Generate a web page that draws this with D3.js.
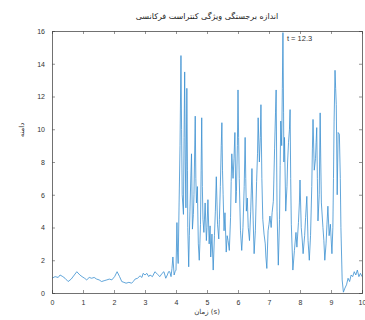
<!DOCTYPE html>
<html><head><meta charset="utf-8">
<script src="https://cdn.jsdelivr.net/npm/d3@7"></script>
<style>body{margin:0;background:#fff}svg{display:block}</style>
</head><body>
<script>
const titleText = "اندازه برجستگی ویژگی کنتراست فرکانسی";
const xLabel = "زمان (s)";
const yLabel = "دامنه";
const annotation = "t = 12.3";
const xTicks = [0,1,2,3,4,5,6,7,8,9,10];
const yTicks = [0,2,4,6,8,10,12,14,16];
const baseline = [[0,0.9],[0.1,1.0],[0.2,0.95],[0.26,1.1],[0.35,1.0],[0.42,0.9],[0.52,0.7],[0.62,0.85],[0.72,1.1],[0.8,1.3],[0.9,1.1],[0.97,1.0],[1.05,0.9],[1.12,0.8],[1.2,0.95],[1.28,0.9],[1.36,0.95],[1.44,0.85],[1.52,0.8],[1.6,0.7],[1.68,0.75],[1.77,0.8],[1.85,0.85],[1.93,0.8],[2.02,1.0],[2.1,1.3],[2.18,1.0],[2.25,0.7],[2.32,0.65],[2.39,0.6],[2.48,0.65],[2.57,0.6],[2.62,0.7],[2.68,0.85],[2.76,0.9],[2.84,1.05],[2.9,0.95],[2.94,1.2],[3.0,1.1],[3.06,1.2],[3.12,1.0],[3.16,1.1],[3.24,1.0],[3.32,1.3],[3.4,1.15],[3.48,1.0],[3.55,1.2],[3.61,1.3],[3.67,0.9],[3.72,1.1],[3.76,1.3],[3.8,1.3],[3.84,1.0],[3.87,1.5],[3.9,2.2],[3.94,1.1],[3.97,1.3],[4.0,1.4]];
const burst = [[4.03,4.3],[4.05,2.5],[4.07,1.8],[4.1,5.5],[4.13,9.0],[4.16,14.5],[4.18,10.0],[4.2,6.0],[4.24,4.8],[4.26,9.5],[4.28,13.5],[4.3,8.0],[4.32,5.2],[4.35,12.5],[4.37,7.5],[4.38,4.0],[4.41,1.6],[4.43,3.5],[4.45,5.0],[4.48,7.2],[4.5,8.5],[4.53,3.9],[4.56,4.8],[4.58,6.0],[4.62,10.8],[4.64,7.0],[4.66,5.5],[4.69,6.5],[4.72,3.0],[4.75,2.0],[4.77,3.0],[4.79,4.2],[4.81,7.5],[4.83,10.7],[4.85,6.5],[4.87,4.5],[4.9,3.7],[4.94,5.5],[4.98,3.2],[5.0,4.0],[5.03,5.7],[5.07,3.0],[5.1,4.1],[5.12,2.2],[5.16,3.6],[5.2,1.4],[5.24,3.5],[5.27,5.0],[5.3,7.1],[5.34,4.2],[5.38,3.3],[5.4,4.5],[5.43,6.5],[5.46,9.0],[5.48,10.4],[5.5,7.5],[5.52,6.0],[5.55,3.8],[5.58,4.9],[5.62,2.5],[5.65,3.5],[5.68,3.2],[5.72,2.6],[5.76,4.6],[5.78,6.8],[5.8,8.5],[5.84,7.0],[5.87,8.2],[5.9,9.8],[5.93,5.5],[5.95,6.2],[5.98,9.0],[6.0,12.4],[6.02,9.5],[6.04,7.0],[6.08,3.8],[6.12,2.6],[6.16,4.0],[6.2,6.5],[6.23,9.5],[6.25,7.0],[6.27,5.0],[6.3,5.8],[6.33,4.0],[6.37,3.2],[6.41,5.0],[6.45,7.6],[6.49,4.4],[6.52,2.4],[6.56,3.8],[6.6,6.8],[6.63,8.5],[6.65,10.7],[6.69,8.0],[6.72,9.5],[6.74,11.5],[6.77,7.0],[6.8,4.5],[6.84,3.6],[6.88,3.0],[6.9,2.2],[6.93,1.5],[6.97,3.8],[7.0,4.2],[7.03,4.7],[7.07,4.0],[7.1,4.9],[7.14,5.6],[7.18,8.8],[7.21,11.0],[7.23,12.4],[7.26,5.0],[7.3,1.7],[7.34,4.5],[7.36,7.8],[7.38,10.5],[7.41,9.0],[7.43,12.5],[7.45,15.9],[7.47,11.0],[7.48,8.0],[7.5,9.5],[7.54,5.0],[7.58,6.5],[7.6,8.0],[7.63,9.2],[7.66,10.0],[7.68,11.2],[7.7,7.0],[7.72,4.2],[7.75,2.5],[7.77,1.4],[7.82,2.6],[7.87,3.7],[7.9,2.8],[7.95,4.3],[7.98,5.5],[8.0,6.9],[8.04,4.0],[8.07,3.3],[8.1,2.4],[8.15,3.5],[8.18,4.6],[8.22,5.9],[8.26,3.2],[8.3,2.0],[8.34,3.5],[8.38,6.5],[8.4,8.8],[8.42,10.6],[8.46,7.5],[8.5,8.2],[8.52,9.2],[8.54,10.1],[8.56,7.0],[8.58,4.4],[8.62,6.0],[8.65,11.0],[8.67,8.0],[8.69,5.5],[8.74,4.0],[8.77,3.2],[8.8,2.0],[8.84,3.0],[8.87,4.2],[8.9,5.3],[8.94,3.5],[8.98,4.2],[9.03,2.4],[9.06,4.0],[9.08,7.0],[9.1,10.5],[9.13,13.6],[9.15,12.5],[9.17,11.5],[9.2,6.0],[9.23,9.8],[9.27,9.7],[9.3,7.0],[9.32,4.0],[9.36,0.8],[9.4,0.05]];
const tail = [[9.45,0.3],[9.5,0.5],[9.55,0.9],[9.6,0.7],[9.65,1.1],[9.7,1.0],[9.75,1.3],[9.8,1.1],[9.85,1.4],[9.9,1.0],[9.95,1.2],[10.0,1.0]];
const annotPoint = [7.45, 15.9];

const W = 365, H = 320;
const m = {left:52, right:3, top:31, bottom:27};
const svg = d3.select("body").append("svg").attr("width", W).attr("height", H)
  .style("font-family", "'Liberation Sans', Arial, sans-serif");
const x = d3.scaleLinear().domain([0,10]).range([m.left, W - m.right]);
const y = d3.scaleLinear().domain([0,16]).range([H - m.bottom, m.top]);
const axisColor = "#4d4d4d";

const data = baseline.concat(burst, tail);
svg.append("path").datum(data)
  .attr("fill","none").attr("stroke","#3a8fd0").attr("stroke-width",0.8)
  .attr("d", d3.line().x(d=>x(d[0])).y(d=>y(d[1])));

const tl = 3;
const gx = svg.append("g").attr("transform",`translate(0,${y(0)})`)
  .call(d3.axisBottom(x).tickValues(xTicks).tickSize(-tl).tickPadding(7).tickFormat(d3.format("d")));
const gxt = svg.append("g").attr("transform",`translate(0,${y(16)})`)
  .call(d3.axisTop(x).tickValues(xTicks).tickSize(-tl).tickFormat(""));
const gy = svg.append("g").attr("transform",`translate(${x(0)},0)`)
  .call(d3.axisLeft(y).tickValues(yTicks).tickSize(-tl).tickPadding(7).tickFormat(d3.format("d")));
const gyr = svg.append("g").attr("transform",`translate(${x(10)},0)`)
  .call(d3.axisRight(y).tickValues(yTicks).tickSize(-tl).tickFormat(""));
[gx,gxt,gy,gyr].forEach(g=>{
  g.selectAll("path").attr("stroke",axisColor).attr("stroke-width",0.8);
  g.selectAll("line").attr("stroke",axisColor).attr("stroke-width",0.6);
  g.selectAll("text").attr("fill","#333").style("font-size","7px");
});

svg.append("text").attr("x",(x(0)+x(10))/2).attr("y",19).attr("text-anchor","middle")
  .attr("fill","#222").style("font-size","8px").style("font-family","'DejaVu Sans', sans-serif")
  .attr("direction","rtl").text(titleText);
svg.append("text").attr("x",(x(0)+x(10))/2).attr("y",314).attr("text-anchor","middle")
  .attr("fill","#333").style("font-size","7px").style("font-family","'DejaVu Sans', sans-serif")
  .text(xLabel);
svg.append("text").attr("transform",`translate(24,130) rotate(-90)`).attr("text-anchor","middle")
  .attr("fill","#333").style("font-size","7px").style("font-family","'DejaVu Sans', sans-serif")
  .text(yLabel);
svg.append("text").attr("x",x(annotPoint[0])+4).attr("y",y(annotPoint[1])+8)
  .attr("fill","#333").style("font-size","7.5px").text(annotation);
</script>
</body></html>
